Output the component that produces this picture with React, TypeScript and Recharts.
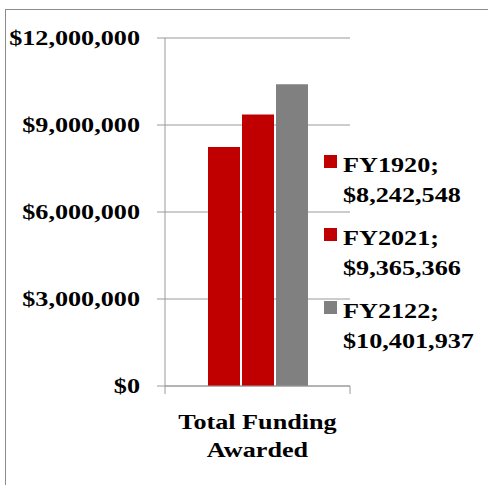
import React from "react";
import { BarChart, Bar, XAxis, YAxis, CartesianGrid, Legend } from "recharts";

const categories = ["Total Funding Awarded"];
const seriesNames = ["FY1920", "FY2021", "FY2122"];
const seriesValues = [8242548, 9365366, 10401937];
const seriesColors = ["#C00000", "#C00000", "#808080"];
const yTicks = [0, 3000000, 6000000, 9000000, 12000000];

const data = categories.map((c) => {
  const row: any = { category: c };
  seriesNames.forEach((n, i) => (row[n] = seriesValues[i]));
  return row;
});

const FONT = "'Liberation Serif', 'Times New Roman', serif";
const SX = 1.19;
const money = (v: number) => "$" + v.toLocaleString("en-US");

const YTick = (props: any) => {
  const { x, y, payload } = props;
  return (
    <text
      transform={`translate(${x},${y}) scale(${SX},1)`}
      x={0}
      y={0}
      dy="0.34em"
      textAnchor="end"
      fontFamily={FONT}
      fontWeight="bold"
      fontSize={22}
      fill="#000"
    >
      {money(payload.value)}
    </text>
  );
};

const XTick = (props: any) => {
  const { x, y, payload } = props;
  const words = String(payload.value).split(" ");
  const lines = [words.slice(0, -1).join(" "), words[words.length - 1]];
  const half = payload.offset || 0;
  return (
    <g>
      <line x1={x - half} x2={x - half} y1={y} y2={y + 8} stroke="#9a9a9a" />
      <line x1={x + half} x2={x + half} y1={y} y2={y + 8} stroke="#9a9a9a" />
      <text transform={`translate(${x},${y}) scale(${SX},1)`} textAnchor="middle" fontFamily={FONT} fontWeight="bold" fontSize={22} fill="#000">
        <tspan x={0} y={43}>{lines[0]}</tspan>
        <tspan x={0} y={71}>{lines[1]}</tspan>
      </text>
    </g>
  );
};

const LegendContent = (props: any) => {
  const { payload } = props;
  return (
    <div style={{ position: "relative", fontFamily: FONT, fontWeight: "bold", fontSize: 22, lineHeight: "30px", color: "#000" }}>
      {(payload || []).map((p: any, i: number) => {
        const idx = seriesNames.indexOf(p.value);
        return (
          <div key={i} style={{ position: "relative", height: 60, marginBottom: 13, paddingLeft: 25 }}>
            <div style={{ position: "absolute", left: 6, top: 5, width: 13, height: 13, background: p.color }} />
            <div style={{ transform: `scaleX(${SX})`, transformOrigin: "left", whiteSpace: "nowrap" }}>{p.value};</div>
            <div style={{ transform: `scaleX(${SX})`, transformOrigin: "left", whiteSpace: "nowrap" }}>{money(seriesValues[idx])}</div>
          </div>
        );
      })}
    </div>
  );
};

export default function App() {
  return (
    <div style={{ position: "absolute", left: 0, top: 0, width: 488, height: 485, overflow: "hidden", background: "#fff" }}>
      <div style={{ position: "absolute", left: 5, top: 9, width: 500, height: 500, border: "1px solid #8c8c8c" }} />
      <BarChart
        width={488}
        height={485}
        data={data}
        margin={{ top: 38, right: 138, bottom: 0, left: 0 }}
        barSize={32}
        barGap={2}
        style={{ position: "absolute", left: 0, top: 0 }}
      >
        <CartesianGrid vertical={false} stroke="#9a9a9a" strokeWidth={1} />
        <XAxis
          dataKey="category"
          height={99}
          axisLine={{ stroke: "#9a9a9a" }}
          tickLine={false}
          tickSize={0}
          tickMargin={0}
          tick={<XTick />}
          interval={0}
        />
        <YAxis
          width={165}
          domain={[0, 12000000]}
          ticks={yTicks}
          axisLine={{ stroke: "#9a9a9a" }}
          tickLine={{ stroke: "#9a9a9a" }}
          tickSize={8}
          tickMargin={17}
          tick={<YTick />}
          interval={0}
        />
        <Legend
          layout="vertical"
          align="center"
          verticalAlign="middle"
          content={<LegendContent />}
          wrapperStyle={{ left: 318, top: 150, width: 170 }}
        />
        {seriesNames.map((n, i) => (
          <Bar key={n} dataKey={n} fill={seriesColors[i]} isAnimationActive={false} />
        ))}
      </BarChart>
    </div>
  );
}
